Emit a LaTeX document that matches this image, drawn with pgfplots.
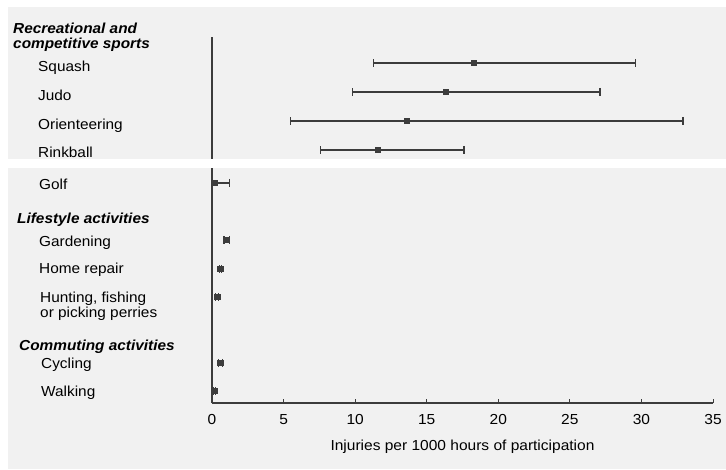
\documentclass[border=0pt]{standalone}
\usepackage{pgfplots}
\pgfplotsset{compat=1.18}
\usepackage{pgfplotstable}
\usepackage{fontspec}
\setmainfont{Liberation Sans}
\definecolor{bg}{RGB}{241,241,241}
\definecolor{ink}{RGB}{60,60,60}
\newcommand{\lf}{\fontsize{14.5}{13}\selectfont}
\pgfplotstableread{
y     m     em    ep
-63   18.3  7.0   11.3
-92   16.3  6.5   10.8
-121  13.6  8.1   19.3
-150  11.6  4.0   6.0
-183  0.2   0.15  1.0
-240  1.04  0.2   0.2
-269  0.57  0.07  0.07
-297  0.36  0.1   0.1
-363  0.57  0.14  0.14
-391  0.16  0.09  0.1
}\rates
\begin{document}
\begin{tikzpicture}[x=1pt,y=1pt]
\useasboundingbox (0,0) rectangle (726,469);
\fill[white] (0,0) rectangle (726,469);
\fill[bg] (8,0) rectangle (726,462);
\begin{axis}[
  at={(212pt,66pt)}, anchor=south west, scale only axis,
  width=501pt, height=366pt,
  xmin=0, xmax=35, ymin=-403, ymax=-37,
  axis x line*=bottom, axis y line*=left,
  ytick=\empty, xtick={0,5,...,35},
  xtick align=inside, major tick length=4pt,
  axis line style={ink, line width=1.1pt},
  tick style={ink, line width=0.9pt},
  /pgf/number format/assume math mode=true,
  xticklabel style={font=\lf, xscale=1.07, anchor=base, yshift=-21pt},
  xlabel={Injuries per 1000 hours of participation},
  xlabel style={font=\lf, xscale=1.07, at={(axis description cs:0.5,0)}, anchor=base, yshift=-47pt},
  clip=false]
\addplot[ink, only marks, mark=square*, mark size=2.6pt,
  error bars/.cd, x dir=both, x explicit, error mark=|,
  error bar style={ink, line width=1.4pt},
  error mark options={ink, line width=1.2pt, mark size=4pt}]
  table[x=m, y=y, x error plus=ep, x error minus=em] {\rates};
\end{axis}
\fill[white] (8,301) rectangle (726,310);
\begin{scope}[every node/.style={inner sep=0pt, anchor=base west, font=\lf, xscale=1.06}]
\node at (13,435) {\bfseries\itshape Recreational and};
\node at (13,420) {\bfseries\itshape competitive sports};
\node at (38,397) {Squash};
\node at (38,368) {Judo};
\node at (38,339) {Orienteering};
\node at (38,311) {Rinkball};
\node at (39,279) {Golf};
\node at (17,245) {\bfseries\itshape Lifestyle activities};
\node at (39,222) {Gardening};
\node at (39,195) {Home repair};
\node at (40,166) {Hunting, fishing};
\node at (40,151) {or picking perries};
\node at (19,118) {\bfseries\itshape Commuting activities};
\node at (41,100) {Cycling};
\node at (41,72) {Walking};
\end{scope}
\end{tikzpicture}
\end{document}
